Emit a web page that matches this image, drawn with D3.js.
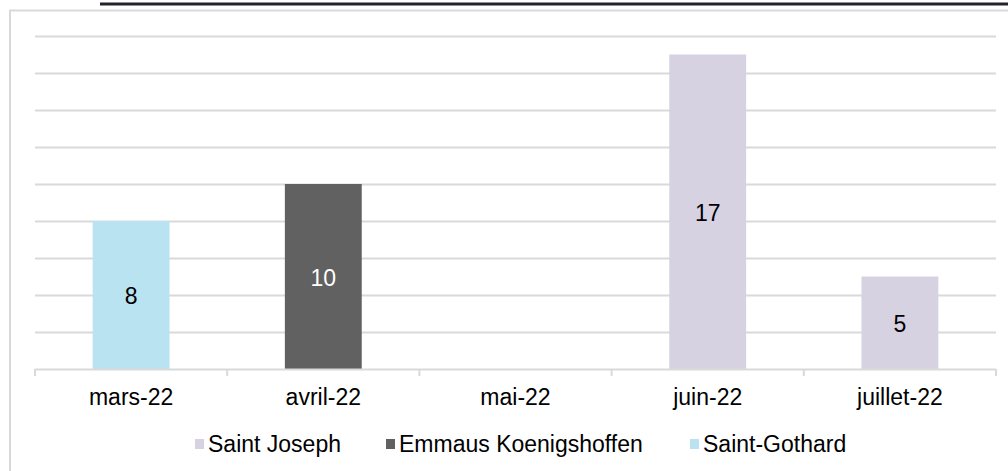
<!DOCTYPE html>
<html>
<head>
<meta charset="utf-8">
<script src="https://cdn.jsdelivr.net/npm/d3@7"></script>
<style>
  html, body { margin: 0; padding: 0; background: #ffffff; }
  svg { display: block; font-family: "Liberation Sans", Arial, sans-serif; }
</style>
</head>
<body>
<svg id="chart" width="1008" height="471"></svg>
<script>
// Monthly counts, one host structure per month
const months = ["mars-22", "avril-22", "mai-22", "juin-22", "juillet-22"];
const series = ["Saint Joseph", "Emmaus Koenigshoffen", "Saint-Gothard"];
const seriesColors = ["#d7d2e2", "#616161", "#b9e3f0"];
const labelColors = ["#000000", "#ffffff", "#000000"];
const saintJoseph = [null, null, null, 17, 5];
const emmaus = [null, 10, null, null, null];
const saintGothard = [8, null, null, null, null];
const yTicks = [2, 4, 6, 8, 10, 12, 14, 16, 18];

const seriesValues = [saintJoseph, emmaus, saintGothard];

const svg = d3.select("#chart");
const W = 1008, H = 471;
const plot = { left: 35, right: 996, top: 36, bottom: 369 };
const FS = 23;

// Outer chart frame
svg.append("rect")
  .attr("x", 10).attr("y", 10.5)
  .attr("width", W + 20).attr("height", H + 20)
  .attr("fill", "none").attr("stroke", "#d9d9d9").attr("stroke-width", 2);

// Underline of the heading above the chart
svg.append("line")
  .attr("x1", 100).attr("x2", W).attr("y1", 4).attr("y2", 4)
  .attr("stroke", "#23232e").attr("stroke-width", 3);

const x = d3.scaleBand().domain(months).range([plot.left, plot.right]).paddingInner(0).paddingOuter(0);
const y = d3.scaleLinear().domain([0, 18]).range([plot.bottom, plot.top]);

// Horizontal gridlines
svg.append("g")
  .selectAll("line")
  .data(yTicks)
  .join("line")
  .attr("x1", plot.left).attr("x2", plot.right)
  .attr("y1", d => Math.round(y(d)) + 0.5).attr("y2", d => Math.round(y(d)) + 0.5)
  .attr("stroke", "#d9d9d9").attr("stroke-width", 2);

// Flatten to one record per drawn bar
const bars = [];
seriesValues.forEach((vals, si) => {
  vals.forEach((v, mi) => {
    if (v != null) bars.push({ month: months[mi], value: v, s: si });
  });
});

const barW = x.bandwidth() / 2.5;

svg.append("g")
  .selectAll("rect")
  .data(bars)
  .join("rect")
  .attr("x", d => x(d.month) + x.bandwidth() / 2 - barW / 2)
  .attr("y", d => y(d.value))
  .attr("width", barW)
  .attr("height", d => y(0) - y(d.value))
  .attr("fill", d => seriesColors[d.s]);

// Value labels centred inside bars
svg.append("g")
  .selectAll("text")
  .data(bars)
  .join("text")
  .attr("x", d => x(d.month) + x.bandwidth() / 2)
  .attr("y", d => (y(d.value) + y(0)) / 2 + 1)
  .attr("dy", "0.36em")
  .attr("text-anchor", "middle")
  .attr("font-size", FS)
  .attr("fill", d => labelColors[d.s])
  .text(d => d.value);

// Category axis
const xAxis = d3.axisBottom(x).tickSize(0).tickPadding(0);
const gx = svg.append("g").attr("transform", `translate(0,${plot.bottom})`).call(xAxis);
gx.select(".domain").remove();
gx.append("line")
  .attr("x1", plot.left).attr("x2", plot.right)
  .attr("y1", 0.5).attr("y2", 0.5)
  .attr("stroke", "#d9d9d9").attr("stroke-width", 2);
gx.selectAll(".tick text")
  .attr("y", 28)
  .attr("dy", "0.36em")
  .attr("font-size", FS)
  .attr("font-family", "'Liberation Sans', Arial, sans-serif")
  .attr("fill", "#000000");
// Category boundary tick marks
gx.append("g")
  .selectAll("line")
  .data(months.concat(["__end"]))
  .join("line")
  .attr("x1", (d, i) => plot.left + i * x.step())
  .attr("x2", (d, i) => plot.left + i * x.step())
  .attr("y1", 0).attr("y2", 7)
  .attr("stroke", "#d9d9d9").attr("stroke-width", 2);

// Legend
const legendPos = [195, 386, 690];
const lg = svg.append("g").attr("transform", "translate(0,444)");
series.forEach((name, i) => {
  const g = lg.append("g").attr("transform", `translate(${legendPos[i]},0)`);
  g.append("rect").attr("x", 0).attr("y", -5).attr("width", 9).attr("height", 10)
    .attr("fill", seriesColors[i]);
  g.append("text").attr("x", 13).attr("y", 0).attr("dy", "0.36em")
    .attr("font-size", FS).attr("fill", "#000000").text(name);
});
</script>
</body>
</html>
